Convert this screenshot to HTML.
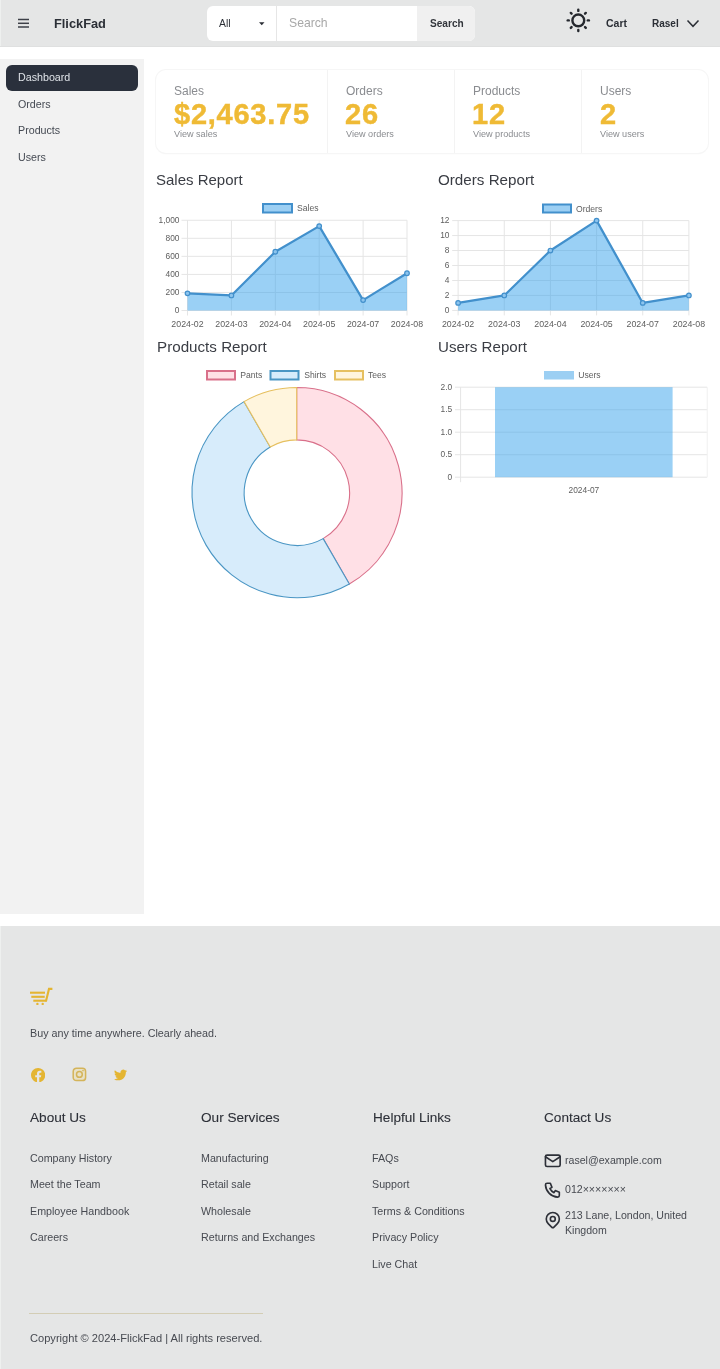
<!DOCTYPE html>
<html><head><meta charset="utf-8"><style>
html,body{margin:0;padding:0;background:#fff;width:720px;height:1369px;overflow:hidden;position:relative}
body{font-family:"Liberation Sans",sans-serif}
.t{position:absolute;white-space:nowrap;line-height:1;will-change:transform}
svg{display:block}
</style></head><body>
<div style="position:absolute;left:0px;top:0px;width:720px;height:47px;background:#e5e6e6"></div>
<div style="position:absolute;left:0px;top:0px;width:1px;height:47px;background:#eef0ef"></div>
<div style="position:absolute;left:0px;top:46px;width:720px;height:1px;background:#dfe0e0"></div>
<svg style="position:absolute;left:0;top:0" width="60" height="47"><g stroke="#3d4048" stroke-width="1.5"><line x1="18" y1="19.5" x2="29" y2="19.5"/><line x1="18" y1="23.3" x2="29" y2="23.3"/><line x1="18" y1="27" x2="29" y2="27"/></g></svg>
<div class="t" style="left:54.00px;top:17.66px;font-size:12.8px;font-weight:bold;color:#2b2f36;">FlickFad</div>
<div style="position:absolute;left:207px;top:6px;width:268px;height:34.5px;background:#fff;border-radius:6px"></div>
<div style="position:absolute;left:417px;top:6px;width:58px;height:34.5px;background:#f0f0f0;border-radius:0 6px 6px 0"></div>
<div style="position:absolute;left:276px;top:6px;width:1px;height:34.5px;background:#e6e6e6"></div>
<div class="t" style="left:219.00px;top:19.00px;font-size:10.4px;font-weight:normal;color:#2b2f36;">All</div>
<svg style="position:absolute;left:259px;top:22px" width="7" height="4"><path d="M0 0.3 L5.5 0.3 L2.75 3.2 Z" fill="#2b2f36"/></svg>
<div class="t" style="left:289.00px;top:17.07px;font-size:12.2px;font-weight:normal;color:#a8a8a8;">Search</div>
<div class="t" style="left:429.50px;top:19.25px;font-size:10.1px;font-weight:bold;color:#33363c;">Search</div>
<svg style="position:absolute;left:558px;top:0" width="40" height="42"><g fill="none" stroke="#25282e" stroke-width="2.4" stroke-linecap="round"><circle cx="20.3" cy="20.4" r="5.9"/><line x1="20.30" y1="10.90" x2="20.30" y2="9.80"/><line x1="27.02" y1="13.68" x2="27.80" y2="12.90"/><line x1="29.80" y1="20.40" x2="30.90" y2="20.40"/><line x1="27.02" y1="27.12" x2="27.80" y2="27.90"/><line x1="20.30" y1="29.90" x2="20.30" y2="31.00"/><line x1="13.58" y1="27.12" x2="12.80" y2="27.90"/><line x1="10.80" y1="20.40" x2="9.70" y2="20.40"/><line x1="13.58" y1="13.68" x2="12.80" y2="12.90"/></g></svg>
<div class="t" style="left:605.80px;top:17.91px;font-size:10.5px;font-weight:bold;color:#2b2f36;">Cart</div>
<div class="t" style="left:651.70px;top:19.14px;font-size:10px;font-weight:bold;color:#2b2f36;">Rasel</div>
<svg style="position:absolute;left:680px;top:14px" width="26" height="18"><path d="M7.5 6.5 L13 12.3 L18.5 6.5" fill="none" stroke="#2b2f36" stroke-width="1.5"/></svg>
<div style="position:absolute;left:0px;top:59px;width:144px;height:855px;background:#f2f2f2"></div>
<div style="position:absolute;left:6px;top:65px;width:132px;height:26px;background:#2a303c;border-radius:6px"></div>
<div class="t" style="left:18.00px;top:71.84px;font-size:10.7px;font-weight:normal;color:#dfe3e8;">Dashboard</div>
<div class="t" style="left:18.00px;top:98.94px;font-size:10.7px;font-weight:normal;color:#454a53;">Orders</div>
<div class="t" style="left:18.00px;top:125.14px;font-size:10.7px;font-weight:normal;color:#454a53;">Products</div>
<div class="t" style="left:18.00px;top:151.94px;font-size:10.7px;font-weight:normal;color:#454a53;">Users</div>
<div style="position:absolute;left:155.5px;top:70px;width:552.5px;height:83px;background:#fff;border-radius:10px;box-shadow:0 0 0 1px #f6f6f6, 0 1px 1.5px rgba(0,0,0,0.06)"></div>
<div style="position:absolute;left:326.5px;top:70px;width:1px;height:83px;background:#f3f3f3"></div>
<div style="position:absolute;left:454px;top:70px;width:1px;height:83px;background:#f3f3f3"></div>
<div style="position:absolute;left:581px;top:70px;width:1px;height:83px;background:#f3f3f3"></div>
<div class="t" style="left:174.00px;top:84.54px;font-size:12px;font-weight:normal;color:#8a8c90;">Sales</div>
<div class="t" style="left:173.70px;top:99.55px;font-size:29px;font-weight:bold;color:#efba35;letter-spacing:0.75px;-webkit-text-stroke:0.45px #efba35">$2,463.75</div>
<div class="t" style="left:174.00px;top:130.40px;font-size:9.1px;font-weight:normal;color:#8a8c90;">View sales</div>
<div class="t" style="left:345.60px;top:84.54px;font-size:12px;font-weight:normal;color:#8a8c90;">Orders</div>
<div class="t" style="left:345.30px;top:99.55px;font-size:29px;font-weight:bold;color:#efba35;letter-spacing:0.75px;-webkit-text-stroke:0.45px #efba35">26</div>
<div class="t" style="left:345.60px;top:130.40px;font-size:9.1px;font-weight:normal;color:#8a8c90;">View orders</div>
<div class="t" style="left:472.60px;top:84.54px;font-size:12px;font-weight:normal;color:#8a8c90;">Products</div>
<div class="t" style="left:472.30px;top:99.55px;font-size:29px;font-weight:bold;color:#efba35;letter-spacing:0.75px;-webkit-text-stroke:0.45px #efba35">12</div>
<div class="t" style="left:472.60px;top:130.40px;font-size:9.1px;font-weight:normal;color:#8a8c90;">View products</div>
<div class="t" style="left:600.00px;top:84.54px;font-size:12px;font-weight:normal;color:#8a8c90;">Users</div>
<div class="t" style="left:599.70px;top:99.55px;font-size:29px;font-weight:bold;color:#efba35;letter-spacing:0.75px;-webkit-text-stroke:0.45px #efba35">2</div>
<div class="t" style="left:600.00px;top:130.40px;font-size:9.1px;font-weight:normal;color:#8a8c90;">View users</div>
<div class="t" style="left:156.20px;top:171.70px;font-size:15px;font-weight:normal;color:#3a3d44;">Sales Report</div>
<div class="t" style="left:438.20px;top:171.53px;font-size:15.2px;font-weight:normal;color:#3a3d44;">Orders Report</div>
<div class="t" style="left:156.50px;top:338.53px;font-size:15.2px;font-weight:normal;color:#3a3d44;">Products Report</div>
<div class="t" style="left:438.20px;top:338.62px;font-size:15.1px;font-weight:normal;color:#3a3d44;">Users Report</div>
<svg style="position:absolute;left:0;top:0" width="720" height="340"><g stroke="#e5e5e5" stroke-width="1" fill="none"><line x1="181.5" y1="310.50" x2="407.00" y2="310.50"/><line x1="181.5" y1="292.45" x2="407.00" y2="292.45"/><line x1="181.5" y1="274.40" x2="407.00" y2="274.40"/><line x1="181.5" y1="256.35" x2="407.00" y2="256.35"/><line x1="181.5" y1="238.30" x2="407.00" y2="238.30"/><line x1="181.5" y1="220.25" x2="407.00" y2="220.25"/><line x1="187.50" y1="220.25" x2="187.50" y2="315.50"/><line x1="231.40" y1="220.25" x2="231.40" y2="315.50"/><line x1="275.30" y1="220.25" x2="275.30" y2="315.50"/><line x1="319.20" y1="220.25" x2="319.20" y2="315.50"/><line x1="363.10" y1="220.25" x2="363.10" y2="315.50"/><line x1="407.00" y1="220.25" x2="407.00" y2="315.50"/></g><path d="M187.50 293.35 L231.40 295.43 L275.30 251.75 L319.20 226.12 L363.10 300.12 L407.00 273.23 L407.00 310.50 L187.50 310.50 Z" fill="rgb(54,162,235)" fill-opacity="0.5"/><path d="M187.50 293.35 L231.40 295.43 L275.30 251.75 L319.20 226.12 L363.10 300.12 L407.00 273.23" fill="none" stroke="#4290cc" stroke-width="2.2" stroke-linejoin="round"/><circle cx="187.50" cy="293.35" r="2.3" fill="#8cc4ee" stroke="#4290cc" stroke-width="1.2"/><circle cx="231.40" cy="295.43" r="2.3" fill="#8cc4ee" stroke="#4290cc" stroke-width="1.2"/><circle cx="275.30" cy="251.75" r="2.3" fill="#8cc4ee" stroke="#4290cc" stroke-width="1.2"/><circle cx="319.20" cy="226.12" r="2.3" fill="#8cc4ee" stroke="#4290cc" stroke-width="1.2"/><circle cx="363.10" cy="300.12" r="2.3" fill="#8cc4ee" stroke="#4290cc" stroke-width="1.2"/><circle cx="407.00" cy="273.23" r="2.3" fill="#8cc4ee" stroke="#4290cc" stroke-width="1.2"/><g font-family="Liberation Sans" font-size="8.4" fill="#5e5e5e"><text x="179.5" y="313.10" text-anchor="end">0</text><text x="179.5" y="295.05" text-anchor="end">200</text><text x="179.5" y="277.00" text-anchor="end">400</text><text x="179.5" y="258.95" text-anchor="end">600</text><text x="179.5" y="240.90" text-anchor="end">800</text><text x="179.5" y="222.85" text-anchor="end">1,000</text><text x="187.50" y="326.8" text-anchor="middle" font-size="8.8">2024-02</text><text x="231.40" y="326.8" text-anchor="middle" font-size="8.8">2024-03</text><text x="275.30" y="326.8" text-anchor="middle" font-size="8.8">2024-04</text><text x="319.20" y="326.8" text-anchor="middle" font-size="8.8">2024-05</text><text x="363.10" y="326.8" text-anchor="middle" font-size="8.8">2024-07</text><text x="407.00" y="326.8" text-anchor="middle" font-size="8.8">2024-08</text></g><rect x="263" y="204" width="29" height="8.5" fill="#9ccff3" stroke="#4290cc" stroke-width="2"/><text x="297" y="211.25" font-family="Liberation Sans" font-size="8.6" fill="#5e5e5e">Sales</text></svg>
<svg style="position:absolute;left:0;top:0" width="720" height="340"><g stroke="#e5e5e5" stroke-width="1" fill="none"><line x1="452.2" y1="310.40" x2="688.90" y2="310.40"/><line x1="452.2" y1="295.43" x2="688.90" y2="295.43"/><line x1="452.2" y1="280.47" x2="688.90" y2="280.47"/><line x1="452.2" y1="265.50" x2="688.90" y2="265.50"/><line x1="452.2" y1="250.53" x2="688.90" y2="250.53"/><line x1="452.2" y1="235.57" x2="688.90" y2="235.57"/><line x1="452.2" y1="220.60" x2="688.90" y2="220.60"/><line x1="458.10" y1="220.60" x2="458.10" y2="315.40"/><line x1="504.26" y1="220.60" x2="504.26" y2="315.40"/><line x1="550.42" y1="220.60" x2="550.42" y2="315.40"/><line x1="596.58" y1="220.60" x2="596.58" y2="315.40"/><line x1="642.74" y1="220.60" x2="642.74" y2="315.40"/><line x1="688.90" y1="220.60" x2="688.90" y2="315.40"/></g><path d="M458.10 302.92 L504.26 295.43 L550.42 250.53 L596.58 220.60 L642.74 302.92 L688.90 295.43 L688.90 310.40 L458.10 310.40 Z" fill="rgb(54,162,235)" fill-opacity="0.5"/><path d="M458.10 302.92 L504.26 295.43 L550.42 250.53 L596.58 220.60 L642.74 302.92 L688.90 295.43" fill="none" stroke="#4290cc" stroke-width="2.2" stroke-linejoin="round"/><circle cx="458.10" cy="302.92" r="2.3" fill="#8cc4ee" stroke="#4290cc" stroke-width="1.2"/><circle cx="504.26" cy="295.43" r="2.3" fill="#8cc4ee" stroke="#4290cc" stroke-width="1.2"/><circle cx="550.42" cy="250.53" r="2.3" fill="#8cc4ee" stroke="#4290cc" stroke-width="1.2"/><circle cx="596.58" cy="220.60" r="2.3" fill="#8cc4ee" stroke="#4290cc" stroke-width="1.2"/><circle cx="642.74" cy="302.92" r="2.3" fill="#8cc4ee" stroke="#4290cc" stroke-width="1.2"/><circle cx="688.90" cy="295.43" r="2.3" fill="#8cc4ee" stroke="#4290cc" stroke-width="1.2"/><g font-family="Liberation Sans" font-size="8.4" fill="#5e5e5e"><text x="449.5" y="313.00" text-anchor="end">0</text><text x="449.5" y="298.03" text-anchor="end">2</text><text x="449.5" y="283.07" text-anchor="end">4</text><text x="449.5" y="268.10" text-anchor="end">6</text><text x="449.5" y="253.13" text-anchor="end">8</text><text x="449.5" y="238.17" text-anchor="end">10</text><text x="449.5" y="223.20" text-anchor="end">12</text><text x="458.10" y="326.8" text-anchor="middle" font-size="8.8">2024-02</text><text x="504.26" y="326.8" text-anchor="middle" font-size="8.8">2024-03</text><text x="550.42" y="326.8" text-anchor="middle" font-size="8.8">2024-04</text><text x="596.58" y="326.8" text-anchor="middle" font-size="8.8">2024-05</text><text x="642.74" y="326.8" text-anchor="middle" font-size="8.8">2024-07</text><text x="688.90" y="326.8" text-anchor="middle" font-size="8.8">2024-08</text></g><rect x="543" y="204.5" width="28" height="8" fill="#9ccff3" stroke="#4290cc" stroke-width="2"/><text x="576" y="211.5" font-family="Liberation Sans" font-size="8.6" fill="#5e5e5e">Orders</text></svg>
<svg style="position:absolute;left:0;top:340px" width="720" height="280" viewBox="0 340 720 280"><path d="M296.70 387.50 A105.3 105.3 0 0 1 349.35 583.99 L323.15 538.61 A52.9 52.9 0 0 0 296.70 439.90 Z" fill="#ffe0e6" stroke="#d9708a" stroke-width="1.1"/><path d="M349.35 583.99 A105.3 105.3 0 0 1 244.05 401.61 L270.25 446.99 A52.9 52.9 0 0 0 323.15 538.61 Z" fill="#d7ecfb" stroke="#4a96c4" stroke-width="1.1"/><path d="M244.05 401.61 A105.3 105.3 0 0 1 296.70 387.50 L296.70 439.90 A52.9 52.9 0 0 0 270.25 446.99 Z" fill="#fff5dd" stroke="#e6c060" stroke-width="1.1"/><rect x="207" y="371" width="28" height="8.5" fill="#ffe0e6" stroke="#d9708a" stroke-width="2"/><text x="240.3" y="378.3" font-family="Liberation Sans" font-size="8.6" fill="#5e5e5e">Pants</text><rect x="270.5" y="371" width="28" height="8.5" fill="#d7ecfb" stroke="#4a96c4" stroke-width="2"/><text x="304.2" y="378.3" font-family="Liberation Sans" font-size="8.6" fill="#5e5e5e">Shirts</text><rect x="335" y="371" width="28" height="8.5" fill="#fff5dd" stroke="#e6c060" stroke-width="2"/><text x="368" y="378.3" font-family="Liberation Sans" font-size="8.6" fill="#5e5e5e">Tees</text><g stroke="#e5e5e5" stroke-width="1"><line x1="455" y1="477.20" x2="707.2" y2="477.20"/><line x1="455" y1="454.70" x2="707.2" y2="454.70"/><line x1="455" y1="432.20" x2="707.2" y2="432.20"/><line x1="455" y1="409.70" x2="707.2" y2="409.70"/><line x1="455" y1="387.20" x2="707.2" y2="387.20"/><line x1="460.6" y1="387.2" x2="460.6" y2="482.2"/><line x1="707.2" y1="387.2" x2="707.2" y2="477.2" stroke="#f0f0f0"/></g><rect x="495" y="387.2" width="177.6" height="90.0" fill="rgb(54,162,235)" fill-opacity="0.5"/><g font-family="Liberation Sans" font-size="8.4" fill="#5e5e5e"><text x="452.2" y="479.80" text-anchor="end">0</text><text x="452.2" y="457.30" text-anchor="end">0.5</text><text x="452.2" y="434.80" text-anchor="end">1.0</text><text x="452.2" y="412.30" text-anchor="end">1.5</text><text x="452.2" y="389.80" text-anchor="end">2.0</text><text x="583.9" y="493" text-anchor="middle">2024-07</text></g><rect x="544" y="371" width="30" height="8.5" fill="#9ccff3"/><text x="578.2" y="378.3" font-family="Liberation Sans" font-size="8.6" fill="#5e5e5e">Users</text></svg>
<div style="position:absolute;left:0px;top:926px;width:720px;height:443px;background:#e5e6e6"></div>
<div style="position:absolute;left:0px;top:926px;width:1px;height:443px;background:#eef0ef"></div>
<svg style="position:absolute;left:0;top:980px" width="60" height="30" viewBox="0 980 60 30"><g stroke="#e4b532" stroke-width="2.1" fill="none" stroke-linecap="butt"><line x1="30" y1="992.7" x2="45" y2="992.7"/><line x1="31.3" y1="996.8" x2="44.7" y2="996.8"/><line x1="33.3" y1="1000.7" x2="46.4" y2="1000.7"/><path d="M45.9 1001.5 L49 988.9 L52.4 988.9"/></g><circle cx="37.4" cy="1003.9" r="1.2" fill="#e4b532"/><circle cx="42.7" cy="1003.9" r="1.2" fill="#e4b532"/></svg>
<div class="t" style="left:30.00px;top:1027.70px;font-size:10.75px;font-weight:normal;color:#474a51;">Buy any time anywhere. Clearly ahead.</div>
<svg style="position:absolute;left:30.9px;top:1067.5px" width="14.3" height="14.3" viewBox="0 0 16 16"><path fill="#e4b532" d="M16 8.049c0-4.446-3.582-8.05-8-8.05C3.58 0-.002 3.603-.002 8.05c0 4.017 2.926 7.347 6.75 7.951v-5.625h-2.03V8.05H6.75V6.275c0-2.017 1.195-3.131 3.022-3.131.876 0 1.791.157 1.791.157v1.98h-1.009c-.993 0-1.303.621-1.303 1.258v1.51h2.218l-.354 2.326H9.25V16c3.824-.604 6.75-3.934 6.75-7.951z"/></svg>
<svg style="position:absolute;left:72px;top:1067.3px" width="15" height="15" viewBox="0 0 15 15"><rect x="1.2" y="1.2" width="12.4" height="12.4" rx="3.2" fill="rgba(240,215,130,0.3)" stroke="#d4b45a" stroke-width="1.5"/><circle cx="7.4" cy="7.4" r="2.9" fill="none" stroke="#d4b45a" stroke-width="1.5"/><circle cx="11" cy="3.6" r="0.8" fill="#d4b45a"/></svg>
<svg style="position:absolute;left:113.6px;top:1068px" width="13.2" height="13.2" viewBox="0 0 16 16"><path fill="#e4b532" d="M5.026 15c6.038 0 9.341-5.003 9.341-9.334 0-.14 0-.282-.006-.422A6.685 6.685 0 0 0 16 3.542a6.658 6.658 0 0 1-1.889.518 3.301 3.301 0 0 0 1.447-1.817 6.533 6.533 0 0 1-2.087.793A3.286 3.286 0 0 0 7.875 6.03a9.325 9.325 0 0 1-6.767-3.429 3.289 3.289 0 0 0 1.018 4.382A3.323 3.323 0 0 1 .64 6.575v.045a3.288 3.288 0 0 0 2.632 3.218 3.203 3.203 0 0 1-.865.115 3.23 3.23 0 0 1-.614-.057 3.283 3.283 0 0 0 3.067 2.277A6.588 6.588 0 0 1 .78 13.58a6.32 6.32 0 0 1-.78-.045A9.344 9.344 0 0 0 5.026 15z"/></svg>
<div class="t" style="left:30.30px;top:1110.69px;font-size:13.6px;font-weight:normal;color:#2d3038;-webkit-text-stroke:0.1px #2d3038">About Us</div>
<div class="t" style="left:200.80px;top:1110.69px;font-size:13.6px;font-weight:normal;color:#2d3038;-webkit-text-stroke:0.1px #2d3038">Our Services</div>
<div class="t" style="left:372.60px;top:1110.69px;font-size:13.6px;font-weight:normal;color:#2d3038;-webkit-text-stroke:0.1px #2d3038">Helpful Links</div>
<div class="t" style="left:543.60px;top:1110.69px;font-size:13.6px;font-weight:normal;color:#2d3038;-webkit-text-stroke:0.1px #2d3038">Contact Us</div>
<div class="t" style="left:30.00px;top:1153.24px;font-size:10.7px;font-weight:normal;color:#474a51;">Company History</div>
<div class="t" style="left:30.00px;top:1179.14px;font-size:10.7px;font-weight:normal;color:#474a51;">Meet the Team</div>
<div class="t" style="left:30.00px;top:1205.94px;font-size:10.7px;font-weight:normal;color:#474a51;">Employee Handbook</div>
<div class="t" style="left:30.00px;top:1232.14px;font-size:10.7px;font-weight:normal;color:#474a51;">Careers</div>
<div class="t" style="left:200.80px;top:1153.24px;font-size:10.7px;font-weight:normal;color:#474a51;">Manufacturing</div>
<div class="t" style="left:200.80px;top:1179.14px;font-size:10.7px;font-weight:normal;color:#474a51;">Retail sale</div>
<div class="t" style="left:200.80px;top:1205.94px;font-size:10.7px;font-weight:normal;color:#474a51;">Wholesale</div>
<div class="t" style="left:200.80px;top:1232.14px;font-size:10.7px;font-weight:normal;color:#474a51;">Returns and Exchanges</div>
<div class="t" style="left:372.00px;top:1153.24px;font-size:10.7px;font-weight:normal;color:#474a51;">FAQs</div>
<div class="t" style="left:372.00px;top:1179.14px;font-size:10.7px;font-weight:normal;color:#474a51;">Support</div>
<div class="t" style="left:372.00px;top:1205.94px;font-size:10.7px;font-weight:normal;color:#474a51;">Terms &amp; Conditions</div>
<div class="t" style="left:372.00px;top:1232.14px;font-size:10.7px;font-weight:normal;color:#474a51;">Privacy Policy</div>
<div class="t" style="left:372.00px;top:1258.74px;font-size:10.7px;font-weight:normal;color:#474a51;">Live Chat</div>
<svg style="position:absolute;left:542.67px;top:1150.9px" width="19.6" height="19.6" viewBox="0 0 24 24" fill="none" stroke="#2d3038" stroke-width="2" stroke-linecap="round" stroke-linejoin="round"><rect x="3" y="5" width="18" height="14" rx="2"/><path d="M3 7l9 6l9 -6"/></svg>
<svg style="position:absolute;left:542.67px;top:1179.85px" width="19.6" height="19.6" viewBox="0 0 24 24" fill="none" stroke="#2d3038" stroke-width="2" stroke-linecap="round" stroke-linejoin="round"><path d="M5 4h4l2 5l-2.5 1.5a11 11 0 0 0 5 5l1.5 -2.5l5 2v4a2 2 0 0 1 -2 2a16 16 0 0 1 -15 -15a2 2 0 0 1 2 -2"/></svg>
<svg style="position:absolute;left:542.55px;top:1210.2px" width="19.6" height="19.6" viewBox="0 0 24 24" fill="none" stroke="#2d3038" stroke-width="2" stroke-linecap="round" stroke-linejoin="round"><circle cx="12" cy="11" r="3"/><path d="M17.657 16.657l-4.243 4.243a2 2 0 0 1 -2.827 0l-4.244 -4.243a8 8 0 1 1 11.314 0z"/></svg>
<div class="t" style="left:565.40px;top:1155.03px;font-size:10.6px;font-weight:normal;color:#474a51;">rasel@example.com</div>
<div class="t" style="left:565.40px;top:1183.93px;font-size:10.6px;font-weight:normal;color:#474a51;">012×××××××</div>
<div class="t" style="left:565.40px;top:1209.93px;font-size:10.6px;font-weight:normal;color:#474a51;">213 Lane, London, United</div>
<div class="t" style="left:565.40px;top:1224.53px;font-size:10.6px;font-weight:normal;color:#474a51;">Kingdom</div>
<div style="position:absolute;left:29.2px;top:1313px;width:233.6px;height:1px;background:#d3cdb5"></div>
<div class="t" style="left:30.00px;top:1333.00px;font-size:11.1px;font-weight:normal;color:#474a51;">Copyright © 2024-FlickFad | All rights reserved.</div>
</body></html>
